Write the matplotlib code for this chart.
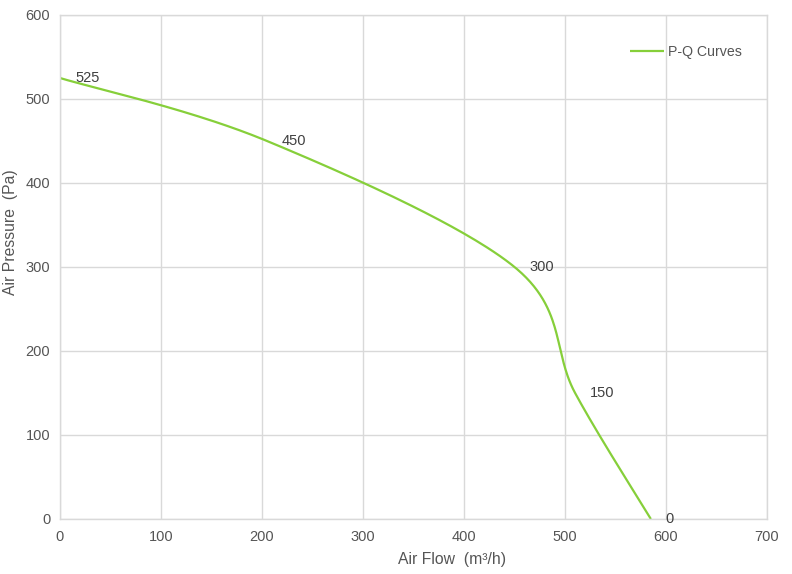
"""P-Q curve of a fan: air pressure vs air flow, smoothed like a spreadsheet chart.
Output: out.png
"""

import numpy as np
import matplotlib.pyplot as plt

plt.rcParams['font.family'] = ['Liberation Sans', 'DejaVu Sans']

# points
FLOW = [0, 205, 450, 510, 585]          # m3/h
PRESSURE = [525, 450, 300, 150, 0]      # Pa
POINT_LABELS = ['525', '450', '300', '150', '0']
X_TICKS = [0, 100, 200, 300, 400, 500, 600, 700]
Y_TICKS = [0, 100, 200, 300, 400, 500, 600]

LINE_COLOR = '#86cf3a'
GRID_COLOR = '#d9d9d9'
TEXT_COLOR = '#555555'


def smooth_curve(x, y, n=60):
    """Bezier smoothing through the points (Catmull-Rom style tangents)."""
    p = np.column_stack([x, y]).astype(float)
    out = []
    for i in range(len(p) - 1):
        p0 = p[i - 1] if i > 0 else p[i]
        p3 = p[i + 2] if i + 2 < len(p) else p[i + 1]
        c1 = p[i] + (p[i + 1] - p0) / 6
        c2 = p[i + 1] - (p3 - p[i]) / 6
        t = np.linspace(0, 1, n)[:, None]
        seg = ((1 - t) ** 3 * p[i] + 3 * (1 - t) ** 2 * t * c1
               + 3 * (1 - t) * t ** 2 * c2 + t ** 3 * p[i + 1])
        out.append(seg if i == 0 else seg[1:])
    out = np.vstack(out)
    return out[:, 0], out[:, 1]


def main():
    fig = plt.figure(figsize=(7.92, 5.74), dpi=100)
    ax = fig.add_axes([60 / 792, 55 / 574, 707 / 792, 504 / 574])

    xs, ys = smooth_curve(FLOW, PRESSURE)
    ax.plot(xs, ys, color=LINE_COLOR, lw=1.6, label='P-Q Curves',
            solid_capstyle='butt')

    for x, y, s in zip(FLOW, PRESSURE, POINT_LABELS):
        ax.annotate(s, (x, y), xytext=(15, 0), textcoords='offset pixels',
                    ha='left', va='center', fontsize=10.5, color='#404040')

    ax.set_xlim(0, 700)
    ax.set_ylim(0, 600)
    ax.set_xticks(X_TICKS)
    ax.set_yticks(Y_TICKS)
    ax.grid(True, color=GRID_COLOR, lw=1)
    ax.set_axisbelow(True)
    for sp in ax.spines.values():
        sp.set_color(GRID_COLOR)
        sp.set_linewidth(1)
    ax.tick_params(length=0, labelsize=10.5, labelcolor=TEXT_COLOR)
    ax.tick_params(axis='x', pad=8)
    ax.tick_params(axis='y', pad=7)

    ax.set_xlabel('Air Flow  (m³/h)', fontsize=11.3, color=TEXT_COLOR,
                  va='center')
    ax.xaxis.set_label_coords(0.554, -0.081)
    ax.set_ylabel('Air Pressure  (Pa)', fontsize=11.3, color=TEXT_COLOR,
                  va='center')
    ax.yaxis.set_label_coords(-0.0707, 0.569)

    leg = ax.legend(loc='center left', bbox_to_anchor=(0.806, 0.9266),
                    frameon=False, borderpad=0, borderaxespad=0,
                    handlelength=2.4, handletextpad=0.3, fontsize=10.2)
    for t in leg.get_texts():
        t.set_color(TEXT_COLOR)

    fig.savefig('out.png', dpi=100)
    plt.close(fig)


if __name__ == '__main__':
    main()
